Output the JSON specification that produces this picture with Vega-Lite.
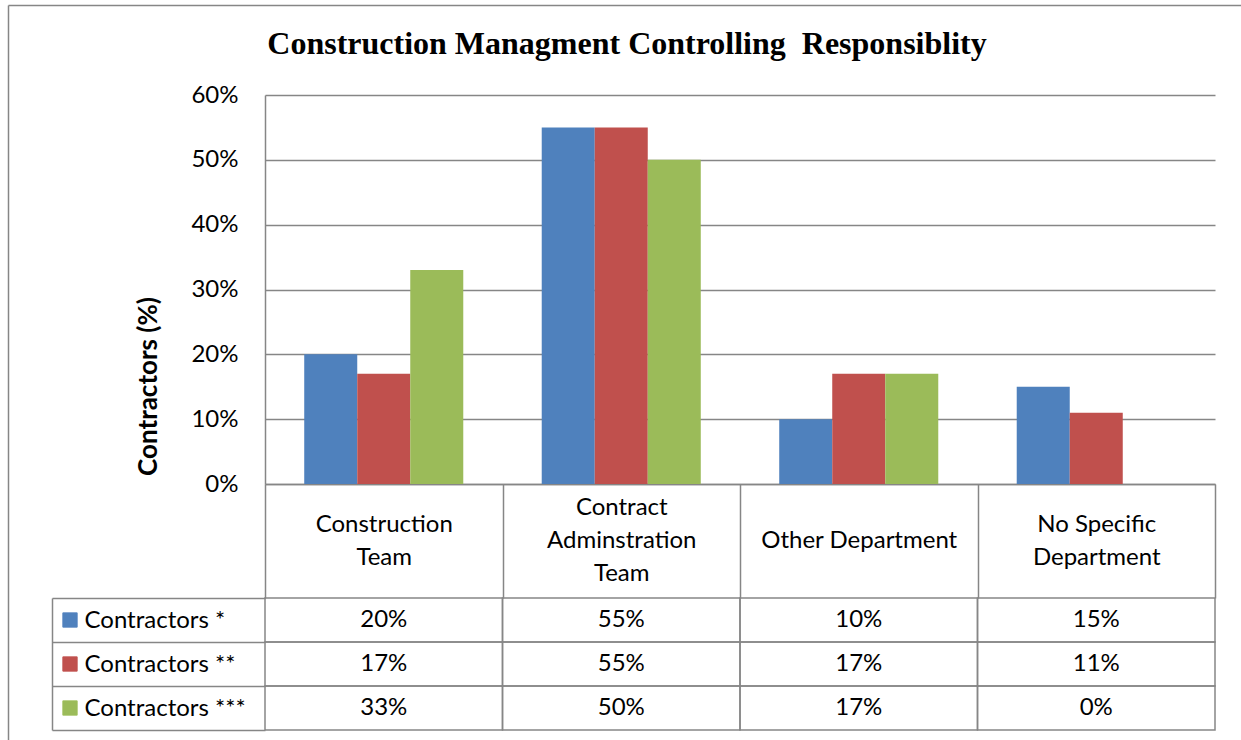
{
  "$schema": "https://vega.github.io/schema/vega-lite/v6.json",
  "width": 950,
  "height": 635,
  "autosize": "none",
  "padding": {"left": 265, "top": 95, "right": 26, "bottom": 10},
  "background": "white",
  "title": {
    "text": "Construction Managment Controlling \u00a0Responsiblity",
    "font": "Liberation Serif",
    "fontSize": 32,
    "fontWeight": "bold",
    "color": "black",
    "anchor": "middle",
    "baseline": "alphabetic",
    "dx": -113,
    "offset": -81
  },
  "config": {"view": {"stroke": null}},
  "data": {
    "values": [
      {"category": "Construction Team", "series": "Contractors *", "value": 0.20},
      {"category": "Construction Team", "series": "Contractors **", "value": 0.17},
      {"category": "Construction Team", "series": "Contractors ***", "value": 0.33},
      {"category": "Contract Adminstration Team", "series": "Contractors *", "value": 0.55},
      {"category": "Contract Adminstration Team", "series": "Contractors **", "value": 0.55},
      {"category": "Contract Adminstration Team", "series": "Contractors ***", "value": 0.50},
      {"category": "Other Department", "series": "Contractors *", "value": 0.10},
      {"category": "Other Department", "series": "Contractors **", "value": 0.17},
      {"category": "Other Department", "series": "Contractors ***", "value": 0.17},
      {"category": "No Specific Department", "series": "Contractors *", "value": 0.15},
      {"category": "No Specific Department", "series": "Contractors **", "value": 0.11},
      {"category": "No Specific Department", "series": "Contractors ***", "value": 0.0}
    ]
  },
  "layer": [
    {
      "mark": {"type": "point", "opacity": 0},
      "encoding": {
        "x": {
          "field": "category",
          "type": "nominal",
          "scale": {"range": [-257, 976]},
          "axis": {"orient": "top", "offset": 90, "domain": true, "domainColor": "#868686", "domainWidth": 1.5, "ticks": false, "labels": false, "grid": false, "title": null}
        },
        "y": {
          "field": "series",
          "type": "nominal",
          "scale": {"range": [-90, 645]},
          "axis": {"orient": "left", "offset": 257, "domain": true, "domainColor": "#868686", "domainWidth": 1.5, "ticks": false, "labels": false, "grid": false, "title": null}
        }
      }
    },
    {
      "mark": {"type": "bar"},
      "encoding": {
        "x": {
          "field": "category",
          "type": "nominal",
          "sort": ["Construction Team", "Contract Adminstration Team", "Other Department", "No Specific Department"],
          "scale": {"paddingInner": 0, "paddingOuter": 0},
          "axis": {
            "orient": "bottom",
            "offset": -246,
            "title": null,
            "domain": true,
            "domainColor": "#868686",
            "domainWidth": 1.5,
            "ticks": true,
            "tickBand": "extent",
            "tickSize": 114,
            "tickColor": "#868686",
            "tickWidth": 1.5,
            "grid": false,
            "labelAngle": 0,
            "labelAlign": "center",
            "labelExpr": "datum.label == 'Contract Adminstration Team' ? ['Contract', 'Adminstration', 'Team'] : datum.label == 'Other Department' ? 'Other Department' : datum.label == 'Construction Team' ? ['Construction', 'Team'] : datum.label == 'No Specific Department' ? ['No Specific', 'Department'] : ''",
            "labelBaseline": {"expr": "datum.value == 'Contract Adminstration Team' ? 'line-bottom' : datum.value == 'Other Department' ? 'line-top' : 'middle'"},
            "labelLineHeight": 33,
            "labelPadding": -74,
            "labelFont": "Lato",
            "labelFontSize": 24,
            "labelColor": "black",
            "labelLimit": 0
          }
        },
        "xOffset": {
          "field": "series",
          "type": "nominal",
          "sort": ["Contractors *", "Contractors **", "Contractors ***"],
          "scale": {"paddingInner": 0, "paddingOuter": 0.74}
        },
        "y": {
          "field": "value",
          "type": "quantitative",
          "scale": {"domain": [0, 0.6], "range": [389, 0], "nice": false},
          "axis": {
            "orient": "left",
            "values": [0, 0.1, 0.2, 0.3, 0.4, 0.5, 0.6],
            "format": ".0%",
            "grid": true,
            "gridColor": "#868686",
            "gridWidth": 1.5,
            "domain": true,
            "domainColor": "#868686",
            "domainWidth": 1.5,
            "ticks": false,
            "labelPadding": 27,
            "labelFont": "Lato",
            "labelFontSize": 24,
            "labelColor": "black",
            "title": "Contractors (%)",
            "titleFont": "Lato",
            "titleFontSize": 26,
            "titleFontWeight": "bold",
            "titleColor": "black",
            "titleX": -117,
            "titleY": 291,
            "titleAngle": -90,
            "titleAlign": "center",
            "titleBaseline": "middle"
          }
        },
        "color": {
          "field": "series",
          "type": "nominal",
          "scale": {"domain": ["Contractors *", "Contractors **", "Contractors ***"], "range": ["#4F81BD", "#C0504D", "#9BBB59"]},
          "legend": null
        }
      }
    },
    {
      "encoding": {
        "y": {
          "field": "series",
          "type": "nominal",
          "sort": ["Contractors *", "Contractors **", "Contractors ***"],
          "scale": {"range": [503, 635], "paddingInner": 0, "paddingOuter": 0},
          "axis": {
            "orient": "left",
            "offset": 213,
            "title": null,
            "grid": false,
            "domain": true,
            "domainColor": "#868686",
            "domainWidth": 1.5,
            "ticks": true,
            "tickBand": "extent",
            "tickSize": -213,
            "tickColor": "#868686",
            "tickWidth": 1.5,
            "labelAlign": "left",
            "labelBaseline": "middle",
            "labelPadding": 181,
            "labelFont": "Lato",
            "labelFontSize": 24,
            "labelColor": "black",
            "labelLimit": 0
          }
        }
      },
      "layer": [
        {
          "mark": {"type": "rect", "fillOpacity": 0, "stroke": "#868686", "strokeWidth": 1.5},
          "encoding": {
            "x": {"field": "category", "type": "nominal", "sort": ["Construction Team", "Contract Adminstration Team", "Other Department", "No Specific Department"], "scale": {"paddingInner": 0, "paddingOuter": 0}, "axis": null}
          }
        },
        {
          "mark": {"type": "text", "font": "Lato", "fontSize": 24, "color": "black"},
          "encoding": {
            "x": {"field": "category", "type": "nominal", "sort": ["Construction Team", "Contract Adminstration Team", "Other Department", "No Specific Department"], "axis": null},
            "text": {"field": "value", "type": "quantitative", "format": ".0%"}
          }
        },
        {
          "mark": {"type": "square", "filled": true, "opacity": 1, "size": 210, "xOffset": -195},
          "encoding": {
            "x": {"datum": "Construction Team", "bandPosition": 0, "axis": null},
            "color": {"field": "series", "type": "nominal"}
          }
        }
      ]
    }
  ],
  "resolve": {"scale": {"x": "independent", "y": "independent"}, "axis": {"x": "independent", "y": "independent"}}
}
